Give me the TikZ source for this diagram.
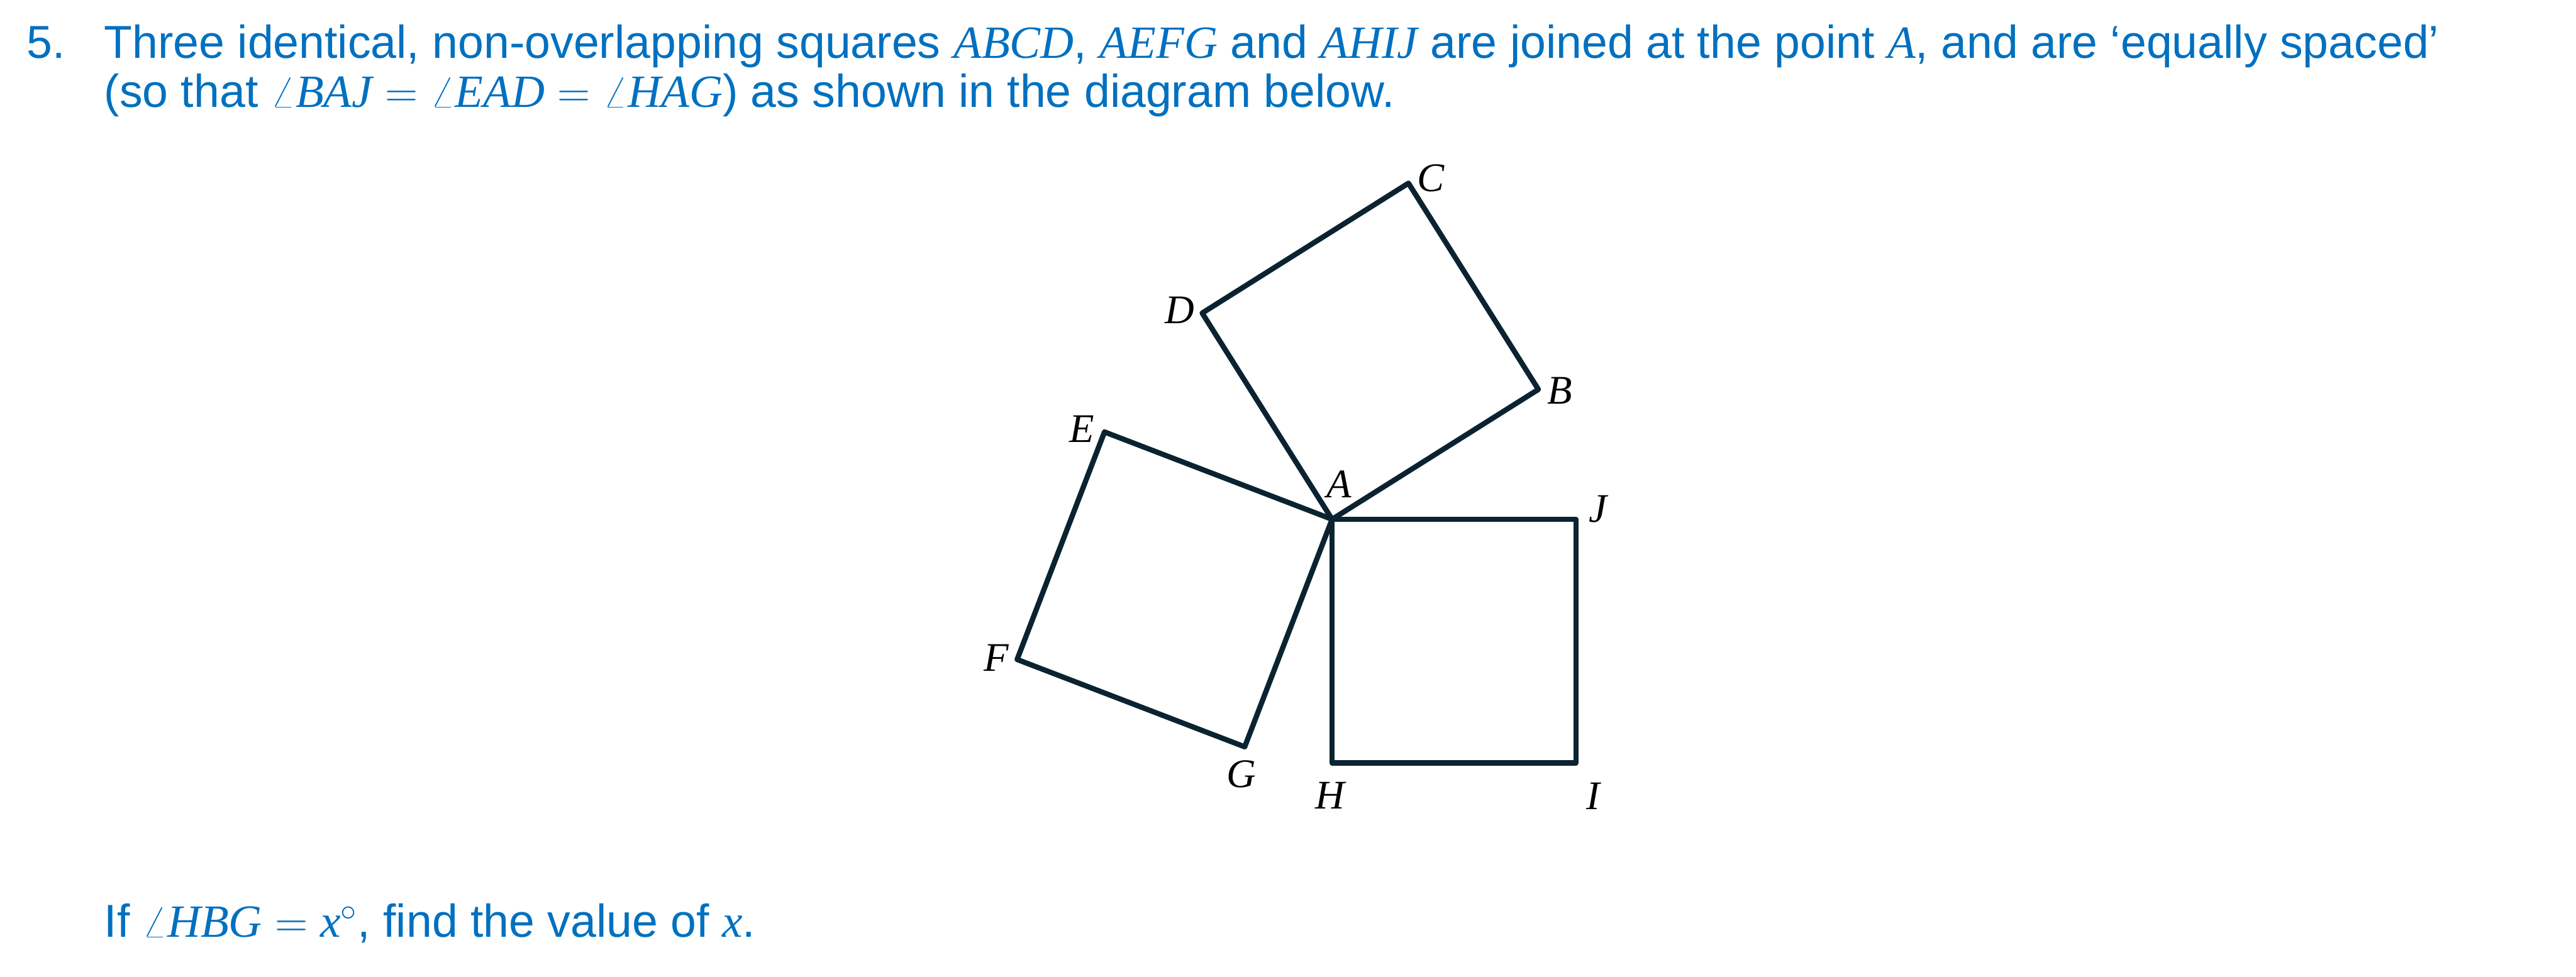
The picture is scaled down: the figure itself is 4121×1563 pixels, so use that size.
\documentclass[tikz,border=0pt]{standalone}
\usepackage{amsmath}
\usepackage{fontspec}
\setmainfont{Liberation Sans}
\newfontfamily\geofont[NFSSFamily=geoserif]{Liberation Serif}
% point letters in math taken from a narrow serif italic
\DeclareSymbolFont{geoletters}{TU}{geoserif}{m}{it}
\DeclareMathSymbol{A}{\mathalpha}{geoletters}{`A}
\DeclareMathSymbol{B}{\mathalpha}{geoletters}{`B}
\DeclareMathSymbol{C}{\mathalpha}{geoletters}{`C}
\DeclareMathSymbol{D}{\mathalpha}{geoletters}{`D}
\DeclareMathSymbol{E}{\mathalpha}{geoletters}{`E}
\DeclareMathSymbol{F}{\mathalpha}{geoletters}{`F}
\DeclareMathSymbol{G}{\mathalpha}{geoletters}{`G}
\DeclareMathSymbol{H}{\mathalpha}{geoletters}{`H}
\DeclareMathSymbol{I}{\mathalpha}{geoletters}{`I}
\DeclareMathSymbol{J}{\mathalpha}{geoletters}{`J}
\DeclareMathSymbol{x}{\mathalpha}{geoletters}{`x}
\usetikzlibrary{calc}
\definecolor{qblue}{HTML}{0070C0}
\definecolor{qline}{HTML}{0B2331}

\begin{document}
\begin{tikzpicture}[x=0.01cm, y=0.01cm,
    question/.style={anchor=base west, inner sep=0pt, text=qblue,
        font=\fontsize{21}{25}\selectfont},
    square/.style={draw=qline, line width=2.4pt, line join=round},
    lbl/.style={inner sep=0pt, font=\fontsize{18.5}{20}\selectfont}
]
\useasboundingbox (0,0) rectangle (4121,-1563);

% question text
\node[question] (num)   at (42,-93)  {5.};
\node[question] (line1) at (166,-93) {Three identical, non-overlapping squares $ABCD$, $AEFG$ and $AHIJ$ are joined at the point $A$, and are ‘equally spaced’};
\node[question] (line2) at (166,-172) {(so that $\angle BAJ=\angle EAD=\angle HAG$) as shown in the diagram below.};
\node[question] (ask)   at (166,-1500) {If $\angle HBG=x^\circ$, find the value of $x$.};

% the three squares
\coordinate (A) at (2131,-831);
\coordinate (B) at ($(A)+(32.2:390)$);
\coordinate (D) at ($(A)+(122.2:390)$);
\coordinate (C) at ($(B)+(D)-(A)$);
\coordinate (E) at ($(A)+(159:390)$);
\coordinate (G) at ($(A)+(249:390)$);
\coordinate (F) at ($(E)+(G)-(A)$);
\coordinate (H) at ($(A)+(270:390)$);
\coordinate (J) at ($(A)+(0:390)$);
\coordinate (I) at ($(H)+(J)-(A)$);

\draw[square] (A) -- (B) -- (C) -- (D) -- cycle;
\draw[square] (A) -- (E) -- (F) -- (G) -- cycle;
\draw[square] (A) -- (H) -- (I) -- (J) -- cycle;

% vertex labels
\node[lbl] (lA) at ($(A)+(11,56)$)   {$A$};
\node[lbl] (lB) at ($(B)+(34,-2)$)   {$B$};
\node[lbl] (lC) at ($(C)+(36,8)$)    {$C$};
\node[lbl] (lD) at ($(D)+(-36,5)$)   {$D$};
\node[lbl] (lE) at ($(E)+(-36,5)$)   {$E$};
\node[lbl] (lF) at ($(F)+(-33,3)$)   {$F$};
\node[lbl] (lG) at ($(G)+(-5,-44)$)  {$G$};
\node[lbl] (lH) at ($(H)+(-3,-52)$)  {$H$};
\node[lbl] (lI) at ($(I)+(28,-53)$)  {$I$};
\node[lbl] (lJ) at ($(J)+(35,16)$)   {$J$};
\end{tikzpicture}
\end{document}
